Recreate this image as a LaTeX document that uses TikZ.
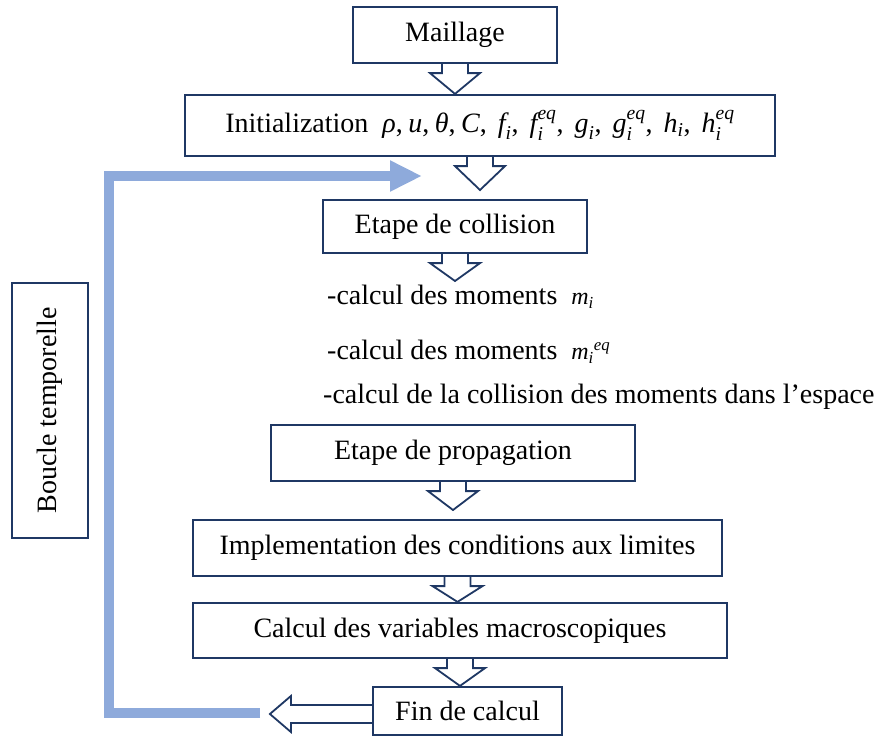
\documentclass[tikz,border=0pt]{standalone}
\usepackage{fontspec}
\usepackage{amsmath}
\setmainfont{Liberation Serif}
\usetikzlibrary{arrows.meta,calc}
\definecolor{navy}{HTML}{1F3864}
\definecolor{loopblue}{HTML}{8EAADB}
\newcommand{\vv}[1]{\textit{#1}}
\newcommand{\cm}{\textup{,}\mskip 4mu}
\newcommand{\cmw}{\textup{,}\mskip 8mu}
\newcommand{\hdown}[2]{%
  \draw[arr] let \p1=(#1.south), \p2=(#2) in
    (\x1-13,\y1) -- (\x1-13,\y1-9) -- (\x1-25,\y1-9) -- (\x1,\y2)
    -- (\x1+25,\y1-9) -- (\x1+13,\y1-9) -- (\x1+13,\y1);}
\begin{document}
\begin{tikzpicture}[x=1pt,y=1pt,
  box/.style={draw=navy,line width=2.2pt,fill=white,inner sep=0pt,align=center,
    font=\fontsize{28}{33}\selectfont},
  arr/.style={draw=navy,line width=1.8pt,fill=white,line join=miter},
  txt/.style={inner sep=0pt,anchor=west,font=\fontsize{28}{33}\selectfont},
  loopline/.style={draw=loopblue,line width=10pt,line join=miter}]
\useasboundingbox (0,0) rectangle (894,-740);

\node[box,minimum width=204,minimum height=56] (mail) at (455,-35) {Maillage};
\node[box,minimum width=590,minimum height=61] (init) at (480,-125.5)
  {Initialization\ \ $\vv{ρ}\cm\vv{u}\cm\vv{θ}\cm\vv{C}\cmw\vv{f}_{\vv{i}}\cmw\vv{f}_{\vv{i}}^{\vv{eq}}\cmw\vv{g}_{\vv{i}}\cmw\vv{g}_{\vv{i}}^{\vv{eq}}\cmw\vv{h}_{\vv{i}}\cmw\vv{h}_{\vv{i}}^{\vv{eq}}$};
\node[box,minimum width=264,minimum height=53] (coll) at (455,-226.5) {Etape de collision};
\node[txt] (l1) at (327,-297) {-calcul des moments\ \ {\fontsize{24}{28}\selectfont$\vv{m}_{\vv{i}}$}};
\node[txt] (l2) at (327,-352) {-calcul des moments\ \ {\fontsize{24}{28}\selectfont$\vv{m}_{\vv{i}}{}^{\vv{eq}}$}};
\node[txt] (l3) at (323,-397) {-calcul de la collision des moments dans l’espace};
\node[box,minimum width=364,minimum height=56] (prop) at (453,-453) {Etape de propagation};
\node[box,minimum width=529,minimum height=56] (impl) at (457.5,-548) {Implementation des conditions aux limites};
\node[box,minimum width=534,minimum height=55] (calc) at (460,-630.5) {Calcul des variables macroscopiques};
\node[box,minimum width=189,minimum height=48] (fin) at (467.5,-711) {Fin de calcul};
\node[box,rotate=90,minimum width=255,minimum height=76] (boucle) at (50,-410.5) {Boucle temporelle};

\coordinate (c1) at (480,-190);
\coordinate (c2) at (455,-281);
\coordinate (c3) at (453,-510);

\hdown{mail}{init.north}
\hdown{init}{c1}
\hdown{coll}{c2}
\hdown{prop}{c3}
\hdown{impl}{calc.north}
\hdown{calc}{fin.north}

\draw[arr] let \p1=(fin.west) in
  (\x1,\y1+6) -- (\x1-81,\y1+6) -- (\x1-81,\y1+15) -- (\x1-102,\y1-3)
  -- (\x1-81,\y1-21) -- (\x1-81,\y1-12) -- (\x1,\y1-12);

\coordinate (lstart) at (260,-713);
\coordinate (lcorner) at (109,-713);
\coordinate (lend) at (422,-176);
\draw[loopline,-{Triangle[length=32pt,width=29pt]}] (lstart) -- (lcorner) |- (lend);
\end{tikzpicture}
\end{document}
